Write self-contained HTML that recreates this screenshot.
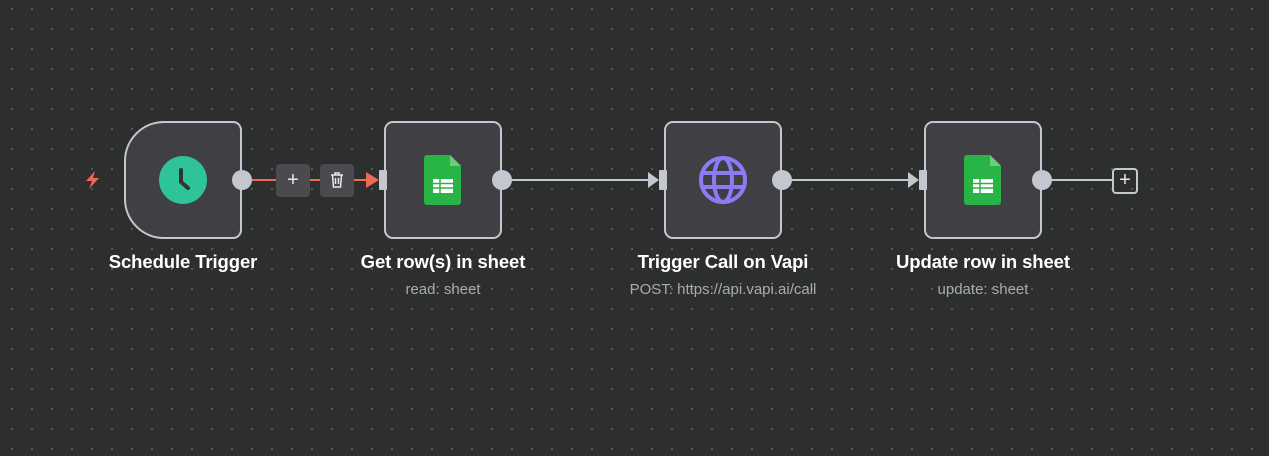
<!DOCTYPE html>
<html><head><style>
html,body{margin:0;padding:0}
body{width:1269px;height:456px;overflow:hidden;background:#2d2e2e;
background-image:radial-gradient(circle at 1px 1px,#5f6060 0.8px,transparent 1.2px);
background-size:20px 20px;background-position:11px 8px;position:relative;font-family:"Liberation Sans",sans-serif}
.node{position:absolute;top:121px;width:114px;height:114px;border:2px solid #c5c7d0;border-radius:9px;background:#404044}
.out{position:absolute;width:20px;height:20px;border-radius:50%;background:#c5c7d0;top:170px}
.in{position:absolute;width:8px;height:20px;background:#c5c7d0;top:170px;border-radius:1px}
.t{position:absolute;top:251px;color:#fff;font-size:18.5px;font-weight:bold;text-align:center;width:260px;letter-spacing:-0.1px}
.s{position:absolute;top:281px;color:#a9abb3;font-size:15px;text-align:center;width:260px}
.line{position:absolute;height:2px;top:179px;background:#c5c7d0}
</style></head><body>
<svg style="position:absolute;left:82px;top:169px" width="22" height="22" viewBox="0 0 22 22"><path d="M13 2 L4 12 L10 12 L7 20 L17 9 L11 9 Z" fill="#ee6a57"/></svg>
<div class="node" style="left:124px;border-radius:40px 9px 9px 40px"></div>
<div style="position:absolute;left:159px;top:156px;width:48px;height:48px;border-radius:50%;background:#2fc39a"></div>
<svg style="position:absolute;left:159px;top:156px" width="48" height="48"><path d="M22 14 L22 26 L29 32" stroke="#333" stroke-width="4" fill="none" stroke-linecap="round" stroke-linejoin="round"/></svg>
<div class="out" style="left:232px"></div>
<div style="position:absolute;left:252px;top:179px;height:2px;width:122px;background:#ee6a57"></div>
<svg style="position:absolute;left:366px;top:171px" width="14" height="18"><path d="M0 1 L13 9 L0 17Z" fill="#ee6a57"/></svg>
<div style="position:absolute;left:276px;top:164px;width:34px;height:33px;border-radius:4px;background:#4b4b4f;color:#e8e8e8;font-size:20px;text-align:center;line-height:32px">+</div>
<div style="position:absolute;left:320px;top:164px;width:34px;height:33px;border-radius:4px;background:#4b4b4f"></div>
<svg style="position:absolute;left:320px;top:164px" width="34" height="33"><g stroke="#e8e8e8" stroke-width="1.5" fill="none"><path d="M11 11h12M15 11v-2h4v2M12.5 11l1 12h7l1-12M15.5 14v6M18.5 14v6"/></g></svg>

<div class="node" style="left:384px"></div>
<div class="in" style="left:379px"></div>
<svg style="position:absolute;left:424px;top:155px" width="38" height="50"><path d="M3 0H26L37 11V47a3 3 0 0 1-3 3H3a3 3 0 0 1-3-3V3a3 3 0 0 1 3-3Z" fill="#28b446"/><path d="M26 0L37 11H26Z" fill="#6ace7c"/><g fill="#fff"><rect x="9" y="24" width="20" height="14"/></g><g stroke="#28b446" stroke-width="1.5"><path d="M9 28.5h20M9 33h20M16 24v14"/></g></svg>
<div class="out" style="left:492px"></div>
<div class="line" style="left:512px;width:144px"></div>
<svg style="position:absolute;left:648px;top:172px" width="12" height="16"><path d="M0 0L11 8L0 16Z" fill="#c5c7d0"/></svg>

<div class="node" style="left:664px"></div>
<div class="in" style="left:659px"></div>
<svg style="position:absolute;left:698px;top:155px" width="50" height="50" viewBox="0 0 50 50"><g stroke="#8b7cf6" stroke-width="4" fill="none"><circle cx="25" cy="25" r="22"/><ellipse cx="25" cy="25" rx="9" ry="22"/><path d="M4 18H46M4 32H46"/></g></svg>
<div class="out" style="left:772px"></div>
<div class="line" style="left:792px;width:124px"></div>
<svg style="position:absolute;left:908px;top:172px" width="12" height="16"><path d="M0 0L11 8L0 16Z" fill="#c5c7d0"/></svg>

<div class="node" style="left:924px"></div>
<div class="in" style="left:919px"></div>
<svg style="position:absolute;left:964px;top:155px" width="38" height="50"><path d="M3 0H26L37 11V47a3 3 0 0 1-3 3H3a3 3 0 0 1-3-3V3a3 3 0 0 1 3-3Z" fill="#28b446"/><path d="M26 0L37 11H26Z" fill="#6ace7c"/><rect x="9" y="24" width="20" height="14" fill="#fff"/><g stroke="#28b446" stroke-width="1.5"><path d="M9 28.5h20M9 33h20M16 24v14"/></g></svg>
<div class="out" style="left:1032px"></div>
<div class="line" style="left:1052px;width:60px"></div>
<div style="position:absolute;left:1112px;top:168px;width:26px;height:26px;border:2px solid #c5c7d0;border-radius:4px;box-sizing:border-box;color:#e8e8e8;font-size:20px;line-height:20px;text-align:center">+</div>

<div class="t" style="left:53px">Schedule Trigger</div>
<div class="t" style="left:313px">Get row(s) in sheet</div>
<div class="s" style="left:313px">read: sheet</div>
<div class="t" style="left:593px">Trigger Call on Vapi</div>
<div class="s" style="left:593px">POST: https://api.vapi.ai/call</div>
<div class="t" style="left:853px">Update row in sheet</div>
<div class="s" style="left:853px">update: sheet</div>
</body></html>
